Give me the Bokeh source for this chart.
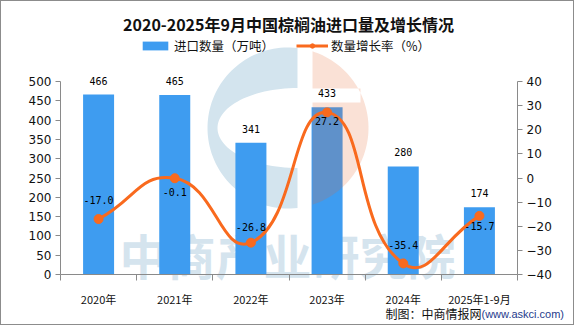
import numpy as np
from bokeh.plotting import figure
from bokeh.models import (Range1d, LinearAxis, FixedTicker, Label, Legend,
                          LegendItem)
from bokeh.core.properties import value
from bokeh.embed import file_html
from bokeh.resources import INLINE

# ---------------- data ----------------
categories = ["2020年", "2021年", "2022年", "2023年", "2024年", "2025年1-9月"]
import_volume = [466, 465, 341, 433, 280, 174]          # 万吨
growth_rate = [-17.0, -0.1, -26.8, 27.2, -35.4, -15.7]   # %
left_ticks = list(range(0, 501, 50))
right_ticks = list(range(-40, 41, 10))

# ---------------- style / layout ----------------
rate_label_dy = [-19, 14, -16, 9, -18, 10]   # label offsets (px)
BAR_COLOR = "#3e9cf0"
LINE_COLOR = "#f96a1e"
AXIS_COLOR = "#8a8a8a"
W, H, BORDER = 576, 327, 1
FRAME_L, FRAME_W = 60, 457          # page px of x=0 and width of 6 bands
AXIS_TOP, FRAME_B = 81, 274         # page px of value 500 / value 0
n = len(categories)
YMAX = 500
RMIN, RMAX = -40, 40


def dx(px):
    return (px - FRAME_L) * n / FRAME_W


def dy(py):
    return (FRAME_B - py) * YMAX / (FRAME_B - AXIS_TOP)


def dr(py):
    return RMIN + (FRAME_B - py) * (RMAX - RMIN) / (FRAME_B - AXIS_TOP)


xs = [i + 0.5 for i in range(n)]
cw, ch = W - 2 * BORDER, H - 2 * BORDER

p = figure(width=cw, height=ch,
           x_range=Range1d(dx(BORDER), dx(W - BORDER)),
           y_range=Range1d(dy(H - BORDER), dy(BORDER)),
           output_backend="svg", toolbar_location=None,
           min_border=0, min_border_left=0, min_border_right=0,
           min_border_top=0, min_border_bottom=0)
p.styles = {"border": "1px solid #8c8c8c"}
p.outline_line_color = None
p.xgrid.visible = False
p.ygrid.visible = False
p.background_fill_color = "white"
p.border_fill_color = "white"
p.extra_y_ranges = {"rate": Range1d(dr(H - BORDER), dr(BORDER))}

# ---------------- watermark (behind bars) ----------------
cx, cy, R = 287.5, 127.5, 80.5
cut_b = 297.0
t0 = np.arccos((cut_b - cx) / R)
ts = np.linspace(t0, 2 * np.pi - t0, 80)
ss = np.linspace(1.5 * np.pi, 0.5 * np.pi, 60)
blue_px = np.concatenate([cx + R * np.cos(ts), cut_b + 80 * np.cos(ss)])
blue_py = np.concatenate([cy - R * np.sin(ts), cy - 40 * np.sin(ss)])
p.patch(dx(blue_px), dy(blue_py), fill_color="#d3e4ee", line_color=None)

p.text(x=[dx(287)], y=[dy(253)], text=["中商产业研究院"],
       text_font=value("Noto Sans CJK SC"), text_font_style="bold",
       text_font_size="48px", text_color="#d5e4ee",
       text_align="center", text_baseline="middle")

# ---------------- bars ----------------
bars = p.vbar(x=xs, top=import_volume, width=0.407, fill_color=BAR_COLOR,
              line_color=None)

# orange part of the logo (over the bars, translucent)
cut_o = 312.0
t1 = np.arccos((cut_o - cx) / R)
tt = np.linspace(-t1, t1, 80)
org_px = np.concatenate([cx + R * np.cos(tt), [cut_o, 360, 360, cut_o]])
org_py = np.concatenate([cy - R * np.sin(tt), [88, 88, 102, 102]])
p.patch(dx(org_px), dy(org_py), fill_color="#e66932", fill_alpha=0.2,
        line_color=None)

p.text(x=xs, y=import_volume, text=[str(v) for v in import_volume],
       text_font=value("DejaVu Sans Mono"), text_font_size="10px",
       text_color="black", text_align="center", text_baseline="middle",
       y_offset=-14)

# ---------------- smooth growth line ----------------
XW = FRAME_W / n
RS = (FRAME_B - AXIS_TOP) / (RMAX - RMIN)
P = np.array([[(i + 0.5) * XW, r * RS] for i, r in enumerate(growth_rate)])
cp0 = np.zeros_like(P)
cp1 = np.zeros_like(P)
smooth = 0.5
for i in range(n):
    prev = P[max(i - 1, 0)]
    nxt = P[min(i + 1, n - 1)]
    cur = P[i]
    v = nxt - prev
    d0 = np.linalg.norm(cur - prev)
    d1 = np.linalg.norm(nxt - cur)
    s = d0 + d1
    if s > 0:
        d0, d1 = d0 / s, d1 / s
    cp0[i] = cur - v * smooth * d0
    cp1[i] = cur + v * smooth * d1

p.bezier(x0=P[:-1, 0] / XW, y0=P[:-1, 1] / RS,
         x1=P[1:, 0] / XW, y1=P[1:, 1] / RS,
         cx0=cp1[:-1, 0] / XW, cy0=cp1[:-1, 1] / RS,
         cx1=cp0[1:, 0] / XW, cy1=cp0[1:, 1] / RS,
         line_color=LINE_COLOR, line_width=3, y_range_name="rate")
dots = p.scatter(x=xs, y=growth_rate, size=9, marker="circle",
                 fill_color=LINE_COLOR, line_color=LINE_COLOR,
                 y_range_name="rate")
p.text(x=xs, y=growth_rate, text=[f"{v:.1f}" for v in growth_rate],
       text_font=value("DejaVu Sans Mono"), text_font_size="10px",
       text_color="black", text_align="center", text_baseline="middle",
       y_offset=rate_label_dy, y_range_name="rate")

# one-point line: draws nothing on the plot, only gives the legend its line
leg_line = p.line(x=xs[:1], y=growth_rate[:1], line_color=LINE_COLOR,
                  line_width=3, y_range_name="rate")

# ---------------- title ----------------
p.text(x=[dx(288)], y=[dy(23.5)],
       text=["2020-2025年9月中国棕榈油进口量及增长情况"],
       text_font=value("Noto Sans CJK SC"), text_font_style="bold",
       text_font_size="16px", text_color="#111111",
       text_align="center", text_baseline="middle")

# ---------------- axes (fixed at the data edges) ----------------
def style_axis(ax):
    ax.axis_line_color = AXIS_COLOR
    ax.major_tick_line_color = AXIS_COLOR
    ax.minor_tick_line_color = None
    ax.major_tick_in = 0
    ax.major_tick_out = 5
    ax.major_label_text_font = "DejaVu Sans"
    ax.major_label_text_font_size = "12px"
    ax.major_label_text_color = "#111111"
    ax.major_label_standoff = 4


yax = p.yaxis[0]
yax.ticker = FixedTicker(ticks=left_ticks)
yax.bounds = (0, YMAX)
yax.fixed_location = 0
style_axis(yax)

rax = LinearAxis(y_range_name="rate", ticker=FixedTicker(ticks=right_ticks),
                 bounds=(RMIN, RMAX), fixed_location=n)
style_axis(rax)
p.add_layout(rax, "right")

xax = p.xaxis[0]
xax.ticker = FixedTicker(ticks=xs, minor_ticks=list(range(n + 1)))
xax.major_label_overrides = {x: c for x, c in zip(xs, categories)}
xax.bounds = (0, n)
xax.fixed_location = 0
xax.axis_line_color = AXIS_COLOR
xax.major_tick_line_color = None
xax.major_tick_in = 0
xax.major_tick_out = 0
xax.minor_tick_line_color = AXIS_COLOR
xax.minor_tick_in = 0
xax.minor_tick_out = 6
xax.major_label_text_font = "Noto Sans CJK SC"
xax.major_label_text_font_size = "11px"
xax.major_label_text_color = "#111111"
xax.major_label_standoff = 10

# ---------------- legend ----------------
legend = Legend(items=[LegendItem(label="进口数量（万吨）", renderers=[bars]),
                       LegendItem(label="数量增长率（%）",
                                  renderers=[leg_line, dots])],
                orientation="horizontal", location=(138, 271),
                glyph_width=32, glyph_height=11, label_height=12,
                label_standoff=3, spacing=22, padding=0, margin=0,
                border_line_color=None, background_fill_alpha=0,
                label_text_font="Noto Sans CJK SC",
                label_text_font_size="12.5px", label_text_color="#111111")
p.add_layout(legend, "center")

# ---------------- footer ----------------
p.add_layout(Label(x=dx(385), y=dy(313), text="制图：中商情报网",
                   text_align="left", text_baseline="middle",
                   text_font="Noto Sans CJK SC", text_font_size="12px",
                   text_color="#111111"))
p.add_layout(Label(x=dx(481), y=dy(313), text="(www.askci.com)",
                   text_align="left", text_baseline="middle",
                   text_font="Liberation Sans", text_font_size="11px",
                   text_color="#1f3c8c"))

open("out.html", "w").write(file_html(p, INLINE))
